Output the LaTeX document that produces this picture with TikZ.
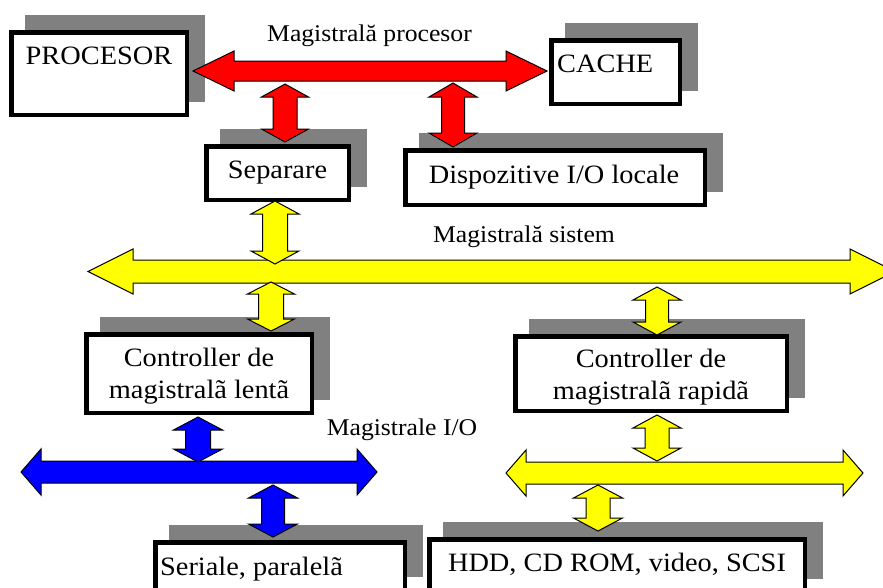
\documentclass[tikz,border=0pt]{standalone}
\usepackage{fontspec}
\setmainfont{Liberation Serif}
\usepackage{graphicx}
\usetikzlibrary{backgrounds}
\definecolor{shadgray}{HTML}{808080}
\definecolor{busred}{HTML}{FF0000}
\definecolor{busyellow}{HTML}{FFFF00}
\definecolor{busblue}{HTML}{0000FF}
\newcommand{\hs}[1]{\scalebox{1.07}[1]{#1}}
% horizontal double block arrow: color, x left tip, x right tip, y centre, shaft half, head half, head length
\newcommand{\hdarrow}[7]{\filldraw[blockarrow, fill=#1] (#2,#4) -- ({#2+#7},{#4-#6}) -- ({#2+#7},{#4-#5}) -- ({#3-#7},{#4-#5}) -- ({#3-#7},{#4-#6}) -- (#3,#4) -- ({#3-#7},{#4+#6}) -- ({#3-#7},{#4+#5}) -- ({#2+#7},{#4+#5}) -- ({#2+#7},{#4+#6}) -- cycle;}
% vertical double block arrow: color, x centre, y top tip, y bottom tip, shaft half, head half, head length
\newcommand{\vdarrow}[7]{\filldraw[blockarrow, fill=#1] (#2,#3) -- ({#2+#6},{#3+#7}) -- ({#2+#5},{#3+#7}) -- ({#2+#5},{#4-#7}) -- ({#2+#6},{#4-#7}) -- (#2,#4) -- ({#2-#6},{#4-#7}) -- ({#2-#5},{#4-#7}) -- ({#2-#5},{#3+#7}) -- ({#2-#6},{#3+#7}) -- cycle;}
\newcommand{\shadowof}[1]{\fill[shadgray] ([shift={(16,-15)}]#1.south west) rectangle ([shift={(16,-15)}]#1.north east);}
\begin{document}
\begin{tikzpicture}[x=1pt,y=-1pt,
  box/.style={draw=black, line width=4.5pt, fill=white, inner sep=0pt},
  boxtxt/.style={font=\fontsize{26.5}{32}\selectfont, inner sep=0pt, anchor=base},
  bustxt/.style={font=\fontsize{24}{29}\selectfont, inner sep=0pt, anchor=base},
  blockarrow/.style={draw=black, line width=1pt, line join=miter}]
\useasboundingbox (0,0) rectangle (883,587);
\clip (0,0) rectangle (883,587);

% boxes
\node[box, minimum width=175.5, minimum height=82.5] (proc) at (99,73.5) {};
\node[box, minimum width=128.5, minimum height=63.5] (cache) at (615.5,72) {};
\node[box, minimum width=142.5, minimum height=53.5] (sep) at (277.5,173) {};
\node[box, minimum width=299.5, minimum height=54.5] (disp) at (555,177.5) {};
\node[box, minimum width=225.5, minimum height=78.5] (lent) at (199,373.5) {};
\node[box, minimum width=271.5, minimum height=74.5] (rapid) at (651,373.5) {};
\node[box, minimum width=249.5, minimum height=47.5] (ser) at (280,566) {};
\node[box, minimum width=375.5, minimum height=52.5] (hdd) at (617,565.5) {};

\begin{pgfonlayer}{background}
\fill[white] (0,0) rectangle (883,587);
\shadowof{proc}
\shadowof{cache}
\shadowof{sep}
\shadowof{disp}
\shadowof{lent}
\shadowof{rapid}
\shadowof{ser}
\shadowof{hdd}
\end{pgfonlayer}

% box texts
\node[boxtxt] (tproc) at (99,64) {\hs{PROCESOR}};
\node[boxtxt, anchor=base west] (tcache) at (557,72.5) {\hs{CACHE}};
\node[boxtxt] (tsep) at (277.5,178) {\hs{Separare}};
\node[boxtxt] (tdisp) at (554,183) {\hs{Dispozitive I/O locale}};
\node[boxtxt] (tlent) at (199,366) {\hs{\begin{tabular}[t]{@{}c@{}}Controller de\\magistralã lentã\end{tabular}}};
\node[boxtxt] (trapid) at (651,367) {\hs{\begin{tabular}[t]{@{}c@{}}Controller de\\magistralã rapidã\end{tabular}}};
\node[boxtxt, anchor=base west] (tser) at (160,575) {\hs{Seriale, paralelã}};
\node[boxtxt] (thdd) at (617,571) {\hs{HDD, CD ROM, video, SCSI}};

% bus labels
\node[bustxt] (lblproc) at (369.5,41) {\hs{Magistrală procesor}};
\node[bustxt] (lblsys) at (524,242) {\hs{Magistrală sistem}};
\node[bustxt] (lblio) at (402,435) {\hs{Magistrale I/O}};

% buses
\hdarrow{busred}{193}{547}{71}{10}{20}{41}
\hdarrow{busyellow}{88}{895}{271.5}{11.5}{22.5}{45}
\hdarrow{busblue}{21}{377}{472}{11}{23}{20}
\hdarrow{busyellow}{506}{863}{473}{11}{23}{20}

% vertical connectors
\vdarrow{busred}{285}{84}{142}{12}{23.5}{13}
\vdarrow{busred}{453}{83}{147}{11.5}{24}{14}
\vdarrow{busyellow}{275}{201}{264}{12.5}{24}{13}
\vdarrow{busyellow}{271}{282}{331}{12.5}{23.5}{12}
\vdarrow{busyellow}{657}{287}{335}{11.5}{24}{13}
\vdarrow{busblue}{198}{417}{462}{12.5}{24.5}{13}
\vdarrow{busblue}{273}{485}{537}{11.5}{24.5}{13}
\vdarrow{busyellow}{657}{415}{461}{12}{24}{13}
\vdarrow{busyellow}{598}{485}{531}{12}{24.5}{13}
\end{tikzpicture}
\end{document}
